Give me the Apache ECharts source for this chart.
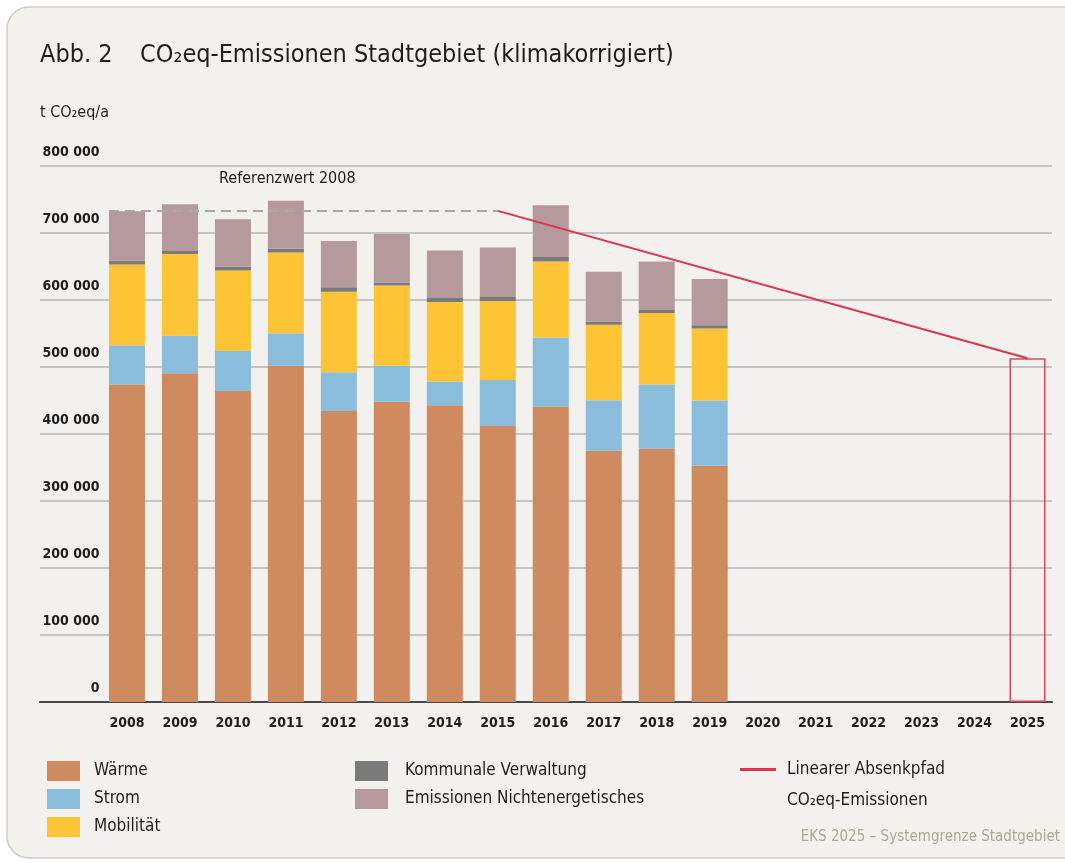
<!DOCTYPE html>
<html>
<head>
<meta charset="utf-8">
<script src="https://cdn.jsdelivr.net/npm/echarts@6/dist/echarts.min.js"></script>
<style>
  html, body { margin: 0; padding: 0; background: #ffffff; }
  #main { width: 1065px; height: 863px; }
</style>
</head>
<body>
<div id="main"></div>
<script>
// Jahre (Kategorien)
const years = ['2008', '2009', '2010', '2011', '2012', '2013', '2014', '2015', '2016',
  '2017', '2018', '2019', '2020', '2021', '2022', '2023', '2024', '2025'];

// t CO2eq/a je Sektor, 2008-2019
const waerme = [474000, 490500, 464000, 502000, 434500, 448000, 443000, 412000, 440500, 375000, 378000, 352500];
const strom = [58500, 56000, 60000, 48500, 57500, 54000, 35500, 68500, 103500, 75500, 96000, 97500];
const mobilitaet = [120500, 122000, 120000, 120500, 120500, 119500, 118500, 118000, 113500, 112500, 106500, 107500];
const verwaltung = [6000, 4500, 5500, 5500, 6500, 4500, 6000, 6000, 6500, 5000, 4500, 5000];
const nichtenergetisch = [73500, 70000, 71000, 71500, 69000, 72500, 71000, 74000, 77500, 74000, 72500, 69000];

// Referenzwert und Zielwert
const referenz2008 = 733000;
const ziel2025 = 513000;
const pfadStart = '2015';
const zielJahr = '2025';

// Achsenbeschriftung y
const yTickLabels = ['0', '100 000', '200 000', '300 000', '400 000', '500 000', '600 000', '700 000', '800 000'];

const FONT = "'Liberation Sans Narrow', 'DejaVu Sans Condensed', 'Roboto Condensed', 'Liberation Sans', sans-serif";
const BAR_W = 36;

const chart = echarts.init(document.getElementById('main'));

const iStart = years.indexOf(pfadStart);
const iZiel = years.indexOf(zielJahr);
const zielBar = years.map((y, i) => i === iZiel ? ziel2025 : null);

function barSeries(name, data, color) {
  return {
    name: name,
    type: 'bar',
    xAxisIndex: 1,
    yAxisIndex: 1,
    stack: 'total',
    barWidth: BAR_W,
    data: data,
    itemStyle: { color: color },
    silent: true
  };
}

var option = {
  backgroundColor: '#ffffff',
  animation: false,
  textStyle: { fontFamily: FONT },
  title: [
    { text: 'Abb. 2', left: 40, top: 43, padding: 0, textStyle: { fontFamily: FONT, fontSize: 25, fontWeight: 'normal', color: '#1e1e1e' } },
    { text: 'CO₂eq-Emissionen Stadtgebiet (klimakorrigiert)', left: 140, top: 43, padding: 0, textStyle: { fontFamily: FONT, fontSize: 25, fontWeight: 'normal', color: '#1e1e1e' } },
    { text: 't CO₂eq/a', left: 40, top: 105, padding: 0, textStyle: { fontFamily: FONT, fontSize: 16, fontWeight: 'normal', color: '#1e1e1e' } }
  ],
  graphic: [
    {
      type: 'rect', z: -10,
      shape: { x: 7, y: 7, width: 1100, height: 851, r: 22 },
      style: { fill: '#f2f1ed', stroke: '#cfcdc2', lineWidth: 1.5 }
    },
    {
      type: 'text', left: 219, top: 171,
      style: { text: 'Referenzwert 2008', font: '16px ' + FONT, fill: '#1e1e1e' }
    },
    {
      type: 'text', left: 787, top: 792,
      style: { text: 'CO₂eq-Emissionen', font: '17px ' + FONT, fill: '#1e1e1e' }
    },
    {
      type: 'text', right: 5, top: 830,
      style: { text: 'EKS 2025 – Systemgrenze Stadtgebiet', font: '15px ' + FONT, fill: '#a8aa93' }
    }
  ],
  legend: [
    {
      data: ['Wärme', 'Strom', 'Mobilität'],
      orient: 'vertical', left: 47, top: 761, padding: 0, itemWidth: 33, itemHeight: 20, itemGap: 8,
      icon: 'rect', selectedMode: false,
      textStyle: { fontFamily: FONT, fontSize: 17, color: '#1e1e1e', padding: [0, 0, 0, 9] }
    },
    {
      data: ['Kommunale Verwaltung', 'Emissionen Nichtenergetisches'],
      orient: 'vertical', left: 355, top: 761, padding: 0, itemWidth: 33, itemHeight: 20, itemGap: 8,
      icon: 'rect', selectedMode: false,
      textStyle: { fontFamily: FONT, fontSize: 17, color: '#1e1e1e', padding: [0, 0, 0, 12] }
    },
    {
      data: ['Linearer Absenkpfad'],
      orient: 'vertical', left: 740, top: 761, padding: 0, itemWidth: 36, itemHeight: 3,
      icon: 'rect', selectedMode: false,
      textStyle: { fontFamily: FONT, fontSize: 17, color: '#1e1e1e', padding: [0, 0, 0, 6] }
    }
  ],
  grid: [
    { left: 40, right: 13, top: 166, bottom: 161 },
    { left: 100.5, right: 11, top: 166, bottom: 161 }
  ],
  xAxis: [
    {
      gridIndex: 0, type: 'value', min: 0, max: 1,
      axisLabel: { show: false }, axisTick: { show: false }, splitLine: { show: false },
      axisLine: { lineStyle: { color: '#4a4a4a', width: 2 } }
    },
    {
      gridIndex: 1, type: 'category', data: years,
      axisLine: { show: false }, axisTick: { show: false },
      axisLabel: { margin: 14, fontFamily: FONT, fontSize: 14, fontWeight: 'bold', color: '#1e1e1e' }
    },
    {
      gridIndex: 1, type: 'value', min: -0.5, max: years.length - 0.5, show: false
    }
  ],
  yAxis: [
    {
      gridIndex: 0, type: 'value', min: 0, max: 800000, interval: 100000,
      axisLabel: { show: false }, axisLine: { show: false }, axisTick: { show: false },
      splitLine: { lineStyle: { color: '#b6b6b4', width: 1.5 } }
    },
    {
      gridIndex: 1, type: 'value', min: 0, max: 800000, interval: 100000,
      axisLine: { show: false }, axisTick: { show: false }, splitLine: { show: false },
      axisLabel: {
        margin: 1, verticalAlign: 'bottom', padding: [0, 0, 7, 0],
        fontFamily: FONT, fontSize: 14, fontWeight: 'bold', color: '#1e1e1e',
        formatter: function (v, i) { return yTickLabels[i]; }
      }
    }
  ],
  series: [
    barSeries('Wärme', waerme, '#d08a5f'),
    barSeries('Strom', strom, '#89bddb'),
    barSeries('Mobilität', mobilitaet, '#fdc535'),
    barSeries('Kommunale Verwaltung', verwaltung, '#7b7a7a'),
    barSeries('Emissionen Nichtenergetisches', nichtenergetisch, '#b5999c'),
    {
      name: 'Zielwert 2025',
      type: 'bar', xAxisIndex: 1, yAxisIndex: 1, stack: 'total', barWidth: BAR_W,
      data: zielBar, silent: true,
      itemStyle: { color: 'rgba(0,0,0,0)', borderColor: '#e0455e', borderWidth: 1.5 }
    },
    {
      name: 'Referenzwert 2008',
      type: 'line', xAxisIndex: 2, yAxisIndex: 1, symbol: 'none', silent: true,
      data: [[-BAR_W / 2 / 53, referenz2008], [iStart, referenz2008]],
      lineStyle: { color: '#a9a9a7', width: 2, type: [10, 6] }
    },
    {
      name: 'Linearer Absenkpfad',
      type: 'line', xAxisIndex: 2, yAxisIndex: 1, symbol: 'none', silent: true,
      data: [[iStart, referenz2008], [iZiel, ziel2025]],
      itemStyle: { color: '#e0314f' },
      lineStyle: { color: '#e0314f', width: 2 }
    }
  ]
};

chart.setOption(option);
</script>
</body>
</html>
